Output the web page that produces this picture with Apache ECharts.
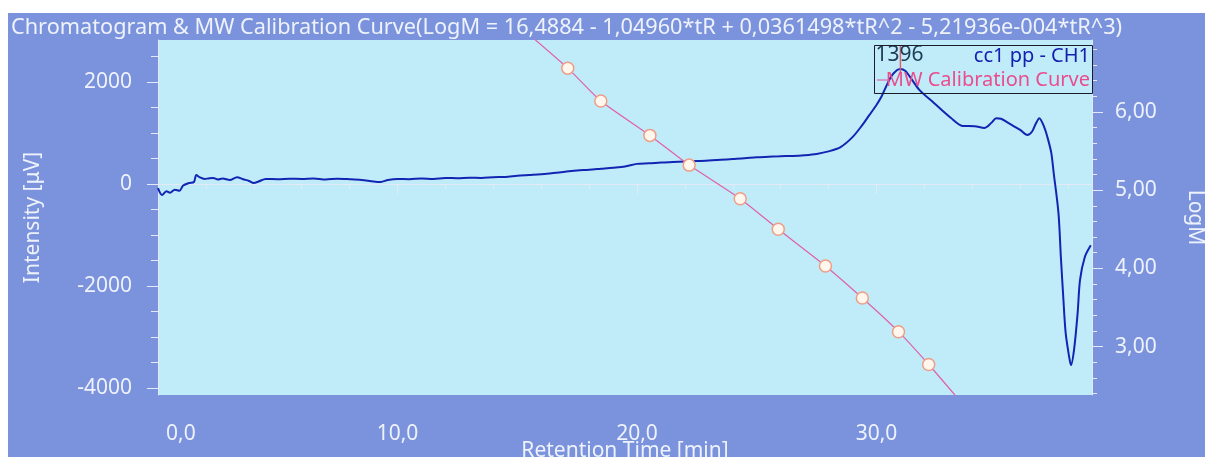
<!DOCTYPE html>
<html>
<head>
<meta charset="utf-8">
<script src="https://cdn.jsdelivr.net/npm/echarts@6/dist/echarts.min.js"></script>
<style>
  html, body { margin: 0; padding: 0; background: #fff; }
  #chart { width: 1205px; height: 457px; }
</style>
</head>
<body>
<div id="chart"></div>
<script>
// chromatogram (retention time in min, intensity in µV)
const chromTime = [0.0, 0.17, 0.35, 0.5, 0.7, 0.9, 1.05, 1.3, 1.5, 1.6, 1.75, 1.95, 2.1, 2.3, 2.5, 2.7, 3.0, 3.3, 3.55, 3.8,
  4.0, 4.2, 4.5, 5.0, 5.5, 6.0, 6.5, 7.0, 7.5, 8.0, 8.5, 9.0, 9.3, 9.6, 10.0, 10.5, 11.0, 11.5, 12.0, 12.5,
  13.0, 13.5, 14.0, 14.5, 15.0, 15.5, 16.0, 16.5, 17.0, 17.5, 18.0, 18.5, 19.0, 19.5, 20.0, 20.5, 21.0, 21.5, 22.0, 22.5,
  23.0, 23.5, 24.0, 24.5, 25.0, 25.5, 26.0, 26.5, 27.0, 27.5, 28.0, 28.5, 29.0, 29.4, 29.7, 30.0, 30.2, 30.6, 30.85, 31.0,
  31.2, 31.4, 31.8, 32.4, 33.1, 33.6, 34.1, 34.5, 34.8, 35.0, 35.2, 35.5, 36.0, 36.3, 36.5, 36.65, 36.8, 37.0, 37.15, 37.3,
  37.4, 37.6, 37.7, 37.8, 37.9, 38.05, 38.12, 38.25, 38.4, 38.5, 38.7, 38.95]
const chromValue = [-80, -215, -140, -170, -110, -130, -30, 20, 40, 175, 130, 100, 110, 120, 90, 110, 80, 135, 95, 60,
  20, 50, 100, 95, 105, 100, 110, 90, 105, 95, 80, 50, 40, 80, 100, 95, 110, 100, 118, 115,
  125, 120, 135, 140, 160, 175, 190, 215, 240, 265, 280, 300, 320, 345, 395, 405, 420, 430, 440, 450,
  460, 475, 490, 505, 525, 535, 545, 550, 565, 590, 640, 725, 920, 1150, 1350, 1550, 1705, 2100, 2230, 2255,
  2220, 2100, 1840, 1590, 1300, 1140, 1135, 1100, 1200, 1290, 1280, 1200, 1060, 960, 1030, 1180, 1290, 1120, 900, 610,
  220, -570, -1430, -2215, -2920, -3400, -3550, -3250, -2530, -1880, -1430, -1200]

// MW calibration curve (retention time, LogM); standards marked, ends run off the plot
const calTime = [15.34, 17.11, 18.49, 20.54, 22.18, 24.31, 25.90, 27.87, 29.41, 30.92, 32.18, 33.47]
const calLogM = [7.03, 6.56, 6.14, 5.70, 5.32, 4.89, 4.50, 4.03, 3.62, 3.19, 2.77, 2.31]
const calIsStandard = [false, true, true, true, true, true, true, true, true, true, true, false]

// axis ticks
const xTicks = [0, 10, 20, 30]
const intensityLabels = [-4000, -2000, 0, 2000]
const intensityMinor = [-4000, -3500, -3000, -2500, -2000, -1500, -1000, -500, 0, 500, 1000, 1500, 2000, 2500]
const logMLabels = [3, 4, 5, 6]
const logMMinor = [2.4, 2.6, 2.8, 3.0, 3.2, 3.4, 3.6, 3.8, 4.0, 4.2, 4.4, 4.6, 4.8, 5.0, 5.2, 5.4, 5.6, 5.8, 6.0, 6.2, 6.4, 6.6, 6.8]

const peakTime = 31.0
const peakValue = 2255
const peakLabel = '1396'

const font = '"Noto Sans", sans-serif'
const textColor = '#eef2fb'
const lineColor = '#e4e9f7'
const fmtComma = (v, d) => v.toFixed(d).replace('.', ',')

const chromData = chromTime.map((t, i) => [t, chromValue[i]])
const calData = calTime.map((t, i) => ({
  value: [t, calLogM[i]],
  symbol: calIsStandard[i] ? 'circle' : 'none'
}))

const yMin = -4137, yMax = 2824
const mMin = 2.38, mMax = 6.92

let chart = echarts.init(document.getElementById('chart'))
chart.setOption({
  backgroundColor: '#ffffff',
  animation: false,
  textStyle: { fontFamily: font },
  title: {
    text: 'Chromatogram & MW Calibration Curve(LogM = 16,4884 - 1,04960*tR + 0,0361498*tR^2 - 5,21936e-004*tR^3)',
    left: 6,
    top: 12,
    textStyle: { color: textColor, fontSize: 21.7, fontWeight: 'normal', fontFamily: font }
  },
  grid: {
    left: 158,
    right: 113,
    top: 40,
    bottom: 62,
    outerBoundsMode: 'none',
    show: true,
    backgroundColor: '#c0ecfa',
    borderWidth: 0
  },
  graphic: [
    { type: 'rect', z: -100, shape: { x: 8, y: 13, width: 1197, height: 444 }, style: { fill: '#7b93dc' } },
    { type: 'rect', z: 100, shape: { x: 874.5, y: 45.5, width: 218, height: 48 }, style: { fill: 'none', stroke: '#1b1b2a', lineWidth: 1 } },
    { type: 'text', z: 100, x: 1090, y: 56, style: { text: 'cc1 pp - CH1', fill: '#1520b0', font: '20px ' + font, textAlign: 'right', textVerticalAlign: 'middle' } },
    { type: 'line', z: 100, shape: { x1: 877, y1: 80, x2: 890, y2: 80 }, style: { stroke: '#e0509a', lineWidth: 1 } },
    { type: 'text', z: 100, x: 1090, y: 80, style: { text: 'MW Calibration Curve', fill: '#ea4c8e', font: '20px ' + font, textAlign: 'right', textVerticalAlign: 'middle' } }
  ],
  xAxis: {
    type: 'value',
    min: 0,
    max: 39,
    interval: 10,
    name: 'Retention Time [min]',
    nameLocation: 'middle',
    nameGap: 46,
    nameMoveOverlap: false,
    nameTextStyle: { color: textColor, fontSize: 21, fontFamily: font },
    axisLine: { lineStyle: { color: lineColor, width: 1 } },
    axisTick: { length: 10, lineStyle: { color: lineColor } },
    minorTick: { show: true, splitNumber: 5, length: 5, lineStyle: { color: lineColor } },
    splitLine: { show: false },
    axisLabel: {
      color: textColor,
      fontSize: 21,
      margin: 29,
      customValues: xTicks,
      alignMinLabel: 'left',
      formatter: v => v === 0 ? '{p|' + fmtComma(v, 1) + '}' : fmtComma(v, 1),
      rich: { p: { padding: [0, 0, 0, 8], color: textColor, fontSize: 21, fontFamily: font } }
    }
  },
  yAxis: [
    {
      type: 'value',
      position: 'left',
      min: yMin,
      max: yMax,
      name: 'Intensity [μV]',
      nameLocation: 'middle',
      nameGap: 114,
      nameMoveOverlap: false,
      nameTextStyle: { color: textColor, fontSize: 21, fontFamily: font },
      axisLine: { show: true, lineStyle: { color: lineColor } },
      axisTick: { show: true, length: 7, customValues: intensityMinor, lineStyle: { color: lineColor } },
      splitLine: { show: false },
      axisLabel: { color: textColor, fontSize: 21, margin: 26, customValues: intensityLabels, formatter: v => String(v) }
    },
    {
      type: 'value',
      position: 'right',
      min: mMin,
      max: mMax,
      name: 'LogM',
      nameLocation: 'middle',
      nameRotate: -90,
      nameGap: 92,
      nameMoveOverlap: false,
      nameTextStyle: { color: textColor, fontSize: 21, fontFamily: font },
      axisLine: { show: true, lineStyle: { color: lineColor } },
      axisTick: { show: true, length: 5, customValues: logMMinor, lineStyle: { color: lineColor } },
      splitLine: { show: false },
      axisLabel: { color: textColor, fontSize: 21, margin: 23, customValues: logMLabels, formatter: v => fmtComma(v, 2) }
    },
    {
      type: 'value',
      position: 'left',
      min: yMin,
      max: yMax,
      axisLine: { show: false },
      axisTick: { show: true, length: 11, customValues: intensityLabels, lineStyle: { color: lineColor } },
      axisLabel: { show: false },
      splitLine: { show: false }
    },
    {
      type: 'value',
      position: 'right',
      min: mMin,
      max: mMax,
      axisLine: { show: false },
      axisTick: { show: true, length: 11, customValues: logMLabels, lineStyle: { color: lineColor } },
      axisLabel: { show: false },
      splitLine: { show: false }
    }
  ],
  series: [
    {
      name: 'cc1 pp - CH1',
      type: 'line',
      yAxisIndex: 0,
      data: chromData,
      showSymbol: false,
      smooth: 0.3,
      lineStyle: { color: '#1224b2', width: 2 },
      markPoint: {
        symbol: 'rect',
        symbolSize: [1.5, 27],
        symbolOffset: [0, -10],
        itemStyle: { color: '#e0606a' },
        label: {
          show: true,
          position: 'inside',
          offset: [-1, -4],
          formatter: peakLabel,
          color: '#1d3c55',
          fontSize: 21,
          fontFamily: font
        },
        data: [{ coord: [peakTime, peakValue] }]
      },
      z: 3
    },
    {
      name: 'MW Calibration Curve',
      type: 'line',
      yAxisIndex: 1,
      data: calData,
      symbolSize: 12,
      smooth: 0.2,
      lineStyle: { color: '#e060a8', width: 1.2 },
      itemStyle: { color: '#fff6ee', borderColor: '#ef9e86', borderWidth: 1.5 },
      z: 4
    }
  ]
})

window.addEventListener('resize', () => {
  chart.resize()
})
</script>
</body>
</html>
